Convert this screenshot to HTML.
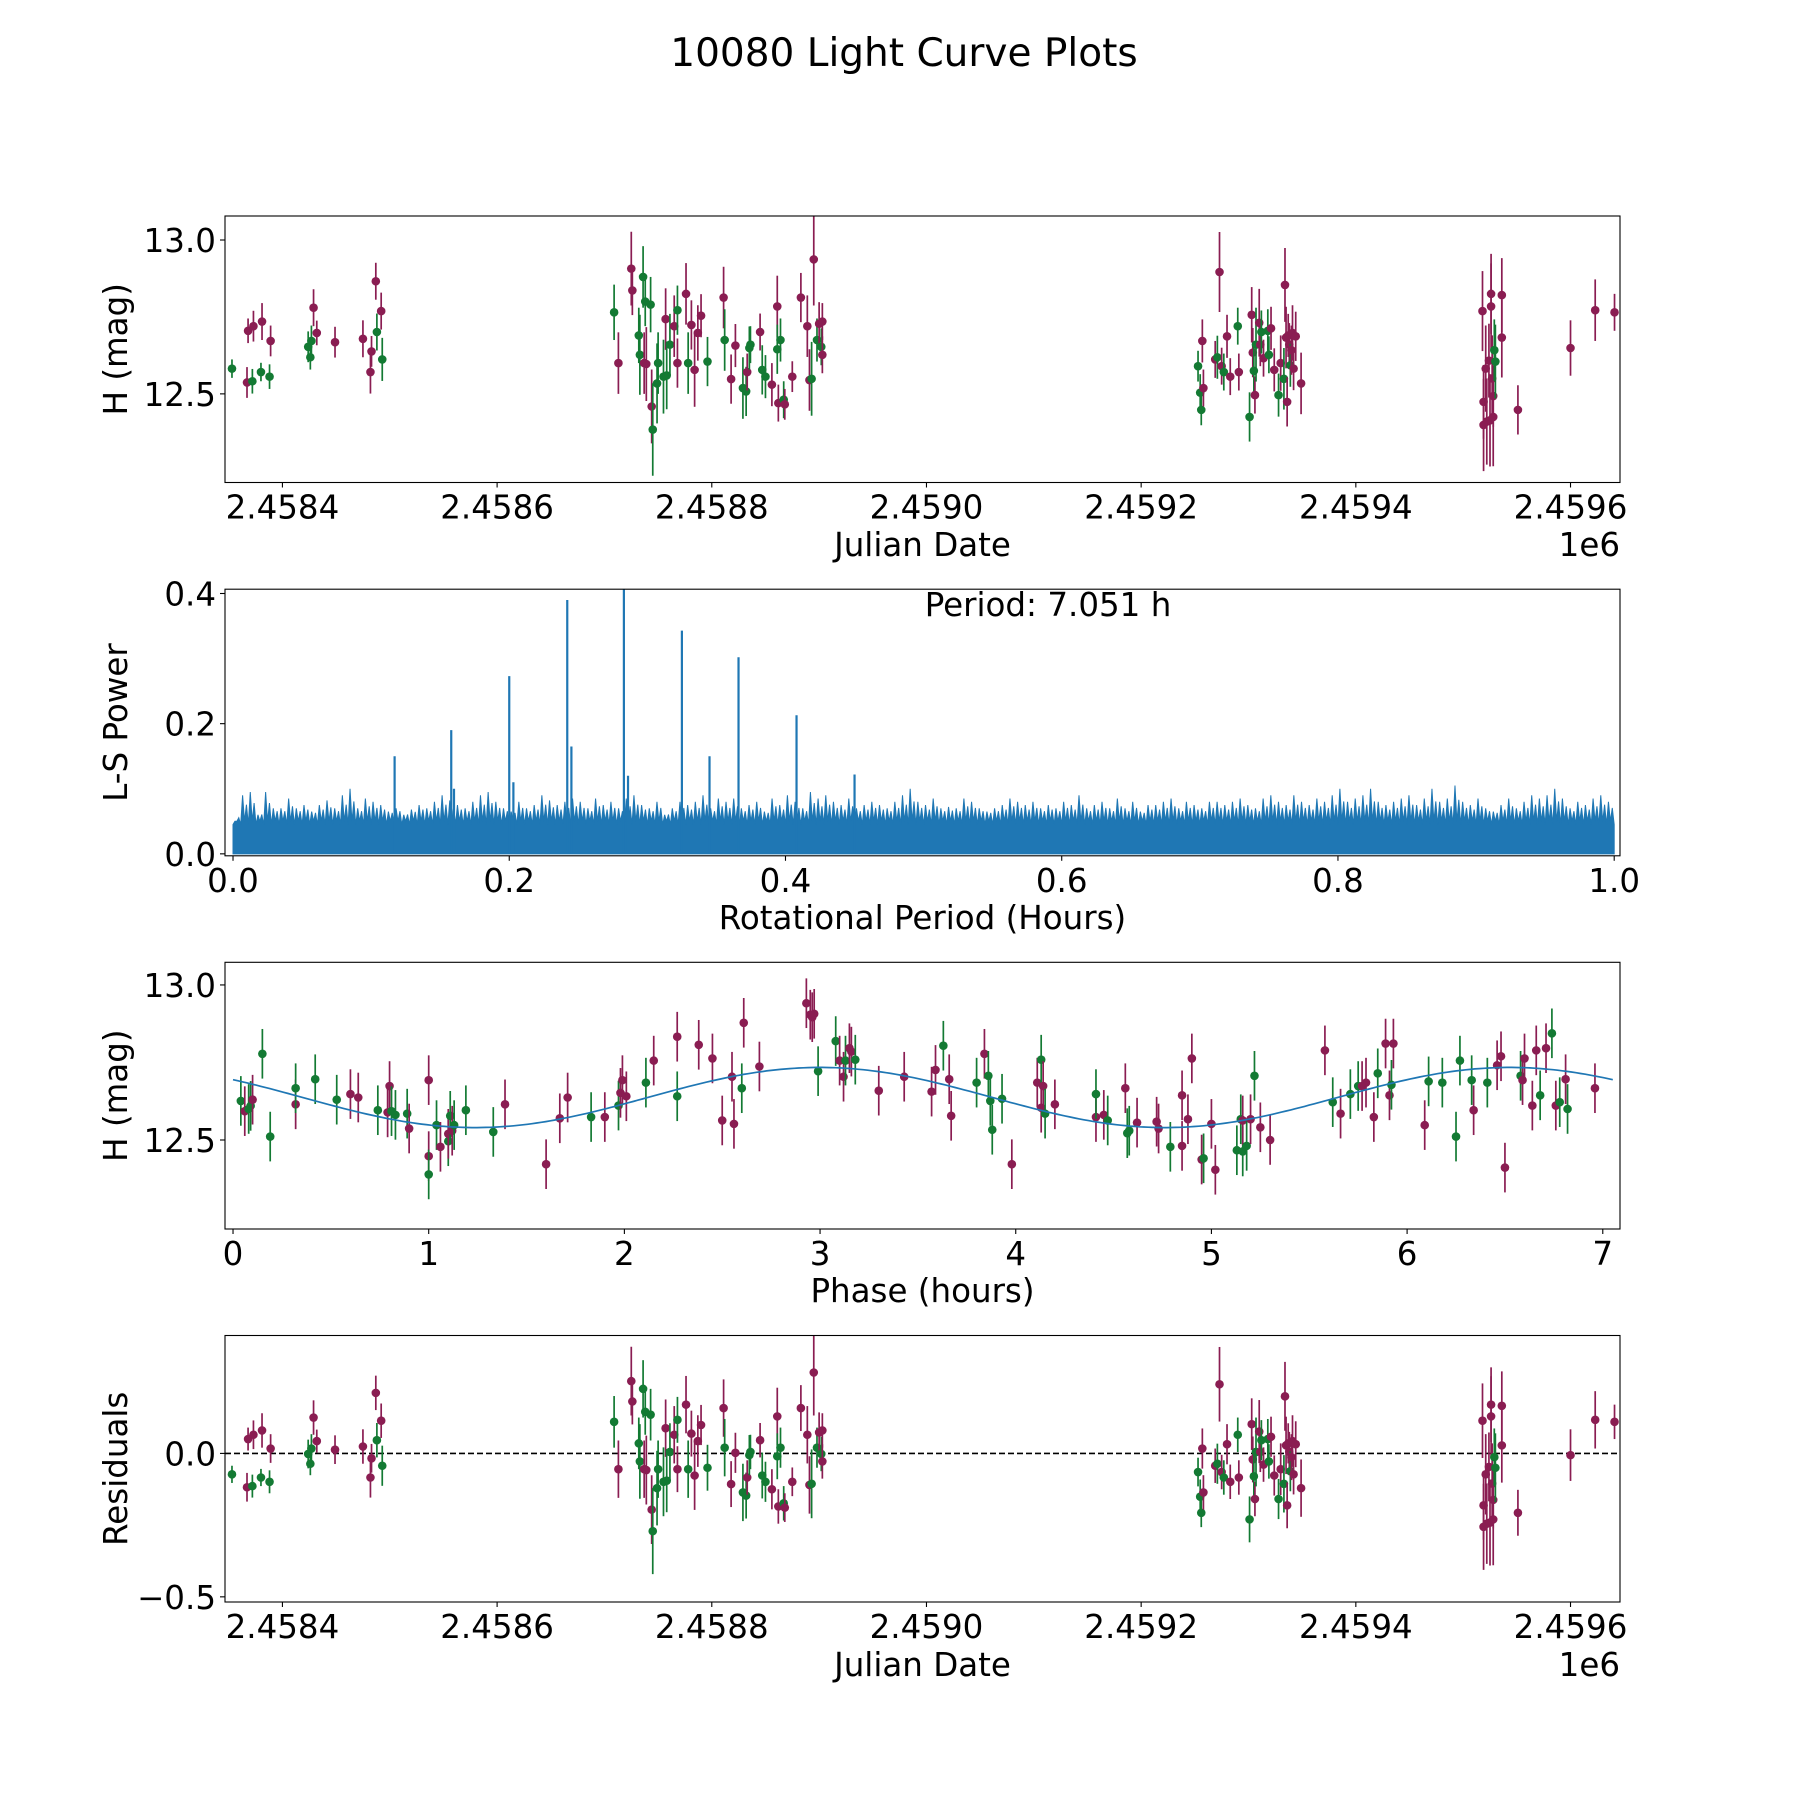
<!DOCTYPE html>
<html><head><meta charset="utf-8"><title>10080 Light Curve Plots</title>
<style>body{margin:0;background:#fff}svg{display:block}text{font-family:"DejaVu Sans","Liberation Sans",sans-serif;fill:#000}</style>
</head><body>
<svg id="fig" width="1800" height="1800" viewBox="0 0 1800 1800" xmlns="http://www.w3.org/2000/svg">
<rect width="1800" height="1800" fill="#fff"/>
<text x="904" y="66" font-size="39" text-anchor="middle">10080 Light Curve Plots</text>
</svg>
<script>
// ---------- data ----------
const JD0 = 2458400;
const lcDays = [-47,-33,-32,-28,-27,-20,-19,-12,-11,24,26,27,29,32,49,75,82,83,87,88,92,93,
309,313,325,326,332,333,336,337,338,339,343,344,345,349,350,355,357,358,361,365,368,368,376,378,381,384,387,390,396,411,412,418,422,429,432,433,435,436,445,447,450,456,461,461,462,464,467,468,475,483,489,491,493,495,498,500,502,503,503,
853,855,856,857,858,869,871,873,875,877,880,883,890,891,901,903,904,905,906,907,910,911,912,914,918,919,921,924,928,930,933,934,935,936,937,938,939,940,941,942,944,949,
1118,1119,1119,1121,1122,1124,1125,1126,1126,1127,1128,1128,1129,1130,1136,1136,1151,1200,1223,1241];
const lcMag = [12.582,12.537,12.705,12.541,12.72,12.571,12.735,12.556,12.672,12.653,12.619,12.672,12.78,12.698,12.668,12.679,12.571,12.638,12.866,12.701,12.769,12.612,
12.765,12.6,12.907,12.836,12.69,12.627,12.88,12.6,12.8,12.597,12.79,12.459,12.384,12.534,12.6,12.556,12.743,12.56,12.66,12.72,12.6,12.772,12.825,12.6,12.724,12.578,12.698,12.754,12.605,12.813,12.675,12.548,12.657,12.519,12.508,12.571,12.649,12.66,12.701,12.578,12.556,12.53,12.784,12.645,12.47,12.675,12.481,12.466,12.556,12.813,12.72,12.545,12.549,12.937,12.675,12.728,12.653,12.735,12.627,
12.59,12.504,12.448,12.672,12.519,12.612,12.619,12.896,12.59,12.571,12.687,12.556,12.72,12.571,12.425,12.757,12.634,12.575,12.496,12.66,12.731,12.66,12.701,12.616,12.705,12.627,12.713,12.578,12.496,12.6,12.549,12.854,12.683,12.474,12.69,12.66,12.593,12.642,12.698,12.582,12.687,12.534,
12.769,12.474,12.399,12.582,12.41,12.608,12.414,12.784,12.825,12.55,12.493,12.425,12.642,12.605,12.683,12.821,12.448,12.649,12.772,12.765];
const lcErr = [0.03,0.05,0.04,0.04,0.05,0.03,0.06,0.04,0.05,0.05,0.04,0.05,0.06,0.04,0.05,0.06,0.07,0.05,0.06,0.06,0.06,0.07,
0.09,0.1,0.12,0.08,0.09,0.13,0.1,0.1,0.08,0.12,0.09,0.12,0.15,0.13,0.1,0.12,0.1,0.11,0.1,0.1,0.08,0.08,0.1,0.1,0.08,0.12,0.09,0.07,0.08,0.1,0.1,0.08,0.07,0.1,0.08,0.06,0.07,0.06,0.06,0.08,0.07,0.07,0.1,0.08,0.06,0.07,0.06,0.05,0.05,0.08,0.1,0.1,0.12,0.15,0.07,0.07,0.06,0.06,0.06,
0.05,0.06,0.05,0.07,0.06,0.06,0.07,0.13,0.06,0.06,0.07,0.06,0.06,0.06,0.08,0.09,0.08,0.08,0.06,0.12,0.11,0.07,0.07,0.06,0.07,0.06,0.07,0.07,0.07,0.09,0.1,0.12,0.1,0.08,0.07,0.07,0.07,0.08,0.09,0.07,0.08,0.1,
0.13,0.12,0.15,0.14,0.14,0.12,0.15,0.14,0.13,0.14,0.1,0.16,0.1,0.12,0.13,0.12,0.08,0.09,0.1,0.06];
const lcBand = "gppgpgpgpgggpppppppgpg"+
"gpppgggpgpgpggggpggppgpgppppgpgppggpggpggppgpggpppppgpg"+"pgppgggpppgppgppgpgppgpgppgpggppgpgpppppg"+
"pppppppppppppppppggp";

const lsPeakX = [0.117,0.158,0.2,0.203,0.242,0.283,0.325,0.345,0.366,0.408,0.45,0.16,0.245,0.286];
const lsPeakY = [0.15,0.19,0.273,0.11,0.39,0.42,0.343,0.15,0.302,0.213,0.122,0.1,0.165,0.12];
const lsEnvelope = [0.05,0.09,0.095,0.06,0.095,0.07,0.07,0.085,0.07,0.075,0.065,0.075,0.082,0.07,0.09,0.1,0.07,0.085,0.08,0.075,
0.065,0.07,0.06,0.068,0.075,0.07,0.08,0.09,0.082,0.075,0.07,0.08,0.09,0.095,0.08,0.07,0.065,0.08,0.07,0.075,
0.09,0.082,0.075,0.08,0.085,0.08,0.07,0.085,0.075,0.08,0.07,0.085,0.09,0.075,0.07,0.08,0.06,0.07,0.08,0.075,
0.08,0.09,0.07,0.085,0.08,0.085,0.07,0.075,0.08,0.065,0.085,0.075,0.09,0.08,0.07,0.095,0.085,0.09,0.08,0.075,
0.085,0.07,0.075,0.08,0.075,0.07,0.08,0.09,0.1,0.08,0.075,0.085,0.07,0.072,0.07,0.085,0.08,0.07,0.065,0.07,
0.075,0.085,0.08,0.075,0.08,0.07,0.075,0.07,0.08,0.075,0.09,0.07,0.075,0.08,0.07,0.085,0.07,0.08,0.065,0.075,
0.075,0.08,0.085,0.07,0.08,0.075,0.07,0.08,0.08,0.075,0.08,0.085,0.075,0.07,0.085,0.09,0.08,0.075,0.09,0.08,
0.075,0.085,0.08,0.09,0.1,0.08,0.085,0.09,0.1,0.08,0.075,0.08,0.085,0.09,0.075,0.085,0.1,0.08,0.085,0.105,
0.08,0.075,0.085,0.07,0.065,0.075,0.085,0.07,0.08,0.09,0.085,0.09,0.1,0.085,0.07,0.08,0.075,0.085,0.09,0.08];
const lsBase = 0.045;
const lsTicks = ["0.0","0.2","0.4","0.6","0.8","1.0"];
const lsYTicks = ["0.0","0.2","0.4"];

const phX = [0.04,0.06,0.08,0.09,0.1,0.15,0.19,0.32,0.32,0.42,0.53,0.6,0.64,0.74,0.79,0.8,0.81,0.83,0.89,0.9,1.0,1.0,1.0,1.04,1.06,1.1,1.1,1.11,1.12,1.13,1.19,1.33,1.39,1.6,1.67,1.71,1.83,1.9,1.97,1.98,1.99,2.01,2.11,2.15,2.27,2.27,2.38,2.45,2.5,2.55,2.56,2.6,2.61,2.69,2.93,2.95,2.96,2.97,2.99,3.08,3.1,3.12,3.13,3.15,3.16,3.18,3.3,3.43,3.57,3.59,3.63,3.66,3.67,3.8,3.84,3.86,3.87,3.88,3.93,3.98,4.11,4.13,4.13,4.14,4.15,4.2,4.41,4.41,4.45,4.47,4.56,4.57,4.58,4.62,4.72,4.73,4.79,4.85,4.85,4.88,4.9,4.95,4.96,5.0,5.02,5.13,5.15,5.16,5.16,5.18,5.2,5.22,5.25,5.3,5.58,5.62,5.66,5.71,5.75,5.77,5.79,5.83,5.85,5.89,5.91,5.92,5.93,6.09,6.11,6.18,6.25,6.27,6.33,6.34,6.41,6.46,6.48,6.5,6.58,6.59,6.6,6.64,6.66,6.68,6.71,6.74,6.76,6.78,6.81,6.82,6.96];
const phMag = [12.626,12.593,12.6,12.61,12.63,12.778,12.511,12.615,12.667,12.696,12.63,12.648,12.637,12.596,12.589,12.674,12.593,12.581,12.585,12.537,12.448,12.389,12.693,12.548,12.478,12.496,12.52,12.578,12.53,12.548,12.596,12.526,12.615,12.422,12.57,12.637,12.574,12.574,12.611,12.652,12.693,12.641,12.685,12.756,12.833,12.641,12.807,12.763,12.563,12.704,12.552,12.667,12.878,12.737,12.941,12.904,12.896,12.907,12.722,12.819,12.756,12.704,12.756,12.796,12.785,12.759,12.659,12.704,12.656,12.726,12.804,12.696,12.578,12.685,12.778,12.707,12.626,12.533,12.633,12.422,12.685,12.604,12.759,12.674,12.585,12.615,12.574,12.648,12.581,12.563,12.667,12.522,12.53,12.556,12.559,12.537,12.478,12.644,12.481,12.567,12.763,12.437,12.441,12.552,12.404,12.467,12.567,12.463,12.563,12.481,12.567,12.707,12.541,12.5,12.789,12.622,12.585,12.648,12.674,12.674,12.685,12.574,12.715,12.811,12.644,12.678,12.811,12.548,12.689,12.685,12.511,12.756,12.693,12.596,12.685,12.741,12.77,12.411,12.707,12.693,12.763,12.611,12.789,12.644,12.796,12.844,12.611,12.622,12.696,12.6,12.667];
const phBand = "gpggpggpgggppgppgggppgpgpgpgpgggppppgpgpppgppgpppppgppppppggppgppgppppgppgpggggpppgpgppgpgpggpppgpppppgppgggpgpgpppgpggpppgppgppgggggpgpppgppppgpgpgpgppppggpp";
const phErr = 0.08;
const modelMean = 12.637, modelAmp = 0.097, modelPeriod = 3.525, modelPeak = 3.0;
const residualOffset = 12.655;

// ---------- helpers ----------
const NS = "http://www.w3.org/2000/svg";
const svg = document.getElementById('fig');
const PURPLE = "#8a1d52", GREEN = "#137a33", BLUE = "#1f77b4";
const FS = 32.5;
function el(tag, attrs, parent){const e=document.createElementNS(NS,tag);for(const k in attrs)e.setAttribute(k,attrs[k]);(parent||svg).appendChild(e);return e;}
function txt(x,y,s,size,anchor,parent){const t=el('text',{x:x,y:y,'font-size':size,'text-anchor':anchor||'middle'},parent);t.textContent=s;return t;}
const L=225,R=1620;
function lin(d0,d1,p0,p1){return v=>p0+(v-d0)*(p1-p0)/(d1-d0);}

function panel(name, top, bottom){
  const g=el('g',{});
  
  
  const cid='clip-'+name;
  const cp=el('clipPath',{id:cid},g);el('rect',{x:L,y:top,width:R-L,height:bottom-top},cp);
  const plot=el('g',{'clip-path':'url(#'+cid+')'},g);
  
  
  return {g,plot};
}
function frame(g,top,bottom){
  const f=el('rect',{x:L,y:top,width:R-L,height:bottom-top,fill:'none',stroke:'#000','stroke-width':1.1},g);
  
  
}
function xTicks(g,vals,labels,sx,bottom){
  vals.forEach((v,i)=>{const x=sx(v);
    el('line',{x1:x,x2:x,y1:bottom,y2:bottom+5,stroke:'#000','stroke-width':1.1},g);
    const t=txt(x,bottom+36,labels[i],FS,'middle',g);
    
    });
}
function yTicks(g,vals,labels,sy){
  vals.forEach((v,i)=>{const y=sy(v);
    el('line',{x1:L-5,x2:L,y1:y,y2:y,stroke:'#000','stroke-width':1.1},g);
    const t=txt(L-9,y+12,labels[i],FS,'end',g);
    
    });
}
function ylabel(g,s,top,bottom,x){
  const cy=(top+bottom)/2;const t=txt(x,cy,s,FS,'middle',g);
  t.setAttribute('transform','rotate(-90 '+x+' '+cy+')');
  
  
}
function xlabel(g,s,y){const t=txt((L+R)/2,y,s,FS,'middle',g);
  
  }
function errPoint(plot,x,y,y1,y2,c){
  el('line',{x1:x,x2:x,y1:y1,y2:y2,stroke:c,'stroke-width':1.7},plot);
  const p=el('circle',{cx:x,cy:y,r:4.3,fill:c},plot);
  
  
}
const jdTicks=[0,200,400,600,800,1000,1200];
const jdLabels=["2.4584","2.4586","2.4588","2.4590","2.4592","2.4594","2.4596"];

// ---------- panel 1: light curve ----------
(function(){
  const top=216,bottom=482.5;
  const sx=lin(-53.5,1246.1,L,R), sy=lin(12.212,13.078,bottom,top);
  const {g,plot}=panel('light-curve-panel',top,bottom);
  lcDays.forEach((d,i)=>{const c=lcBand[i]==='g'?GREEN:PURPLE;
    errPoint(plot,sx(d),sy(lcMag[i]),sy(lcMag[i]+lcErr[i]),sy(lcMag[i]-lcErr[i]),c);});
  frame(g,top,bottom);
  xTicks(g,jdTicks,jdLabels,sx,bottom);
  yTicks(g,[12.5,13.0],["12.5","13.0"],sy);
  ylabel(g,"H (mag)",top,bottom,127);
  xlabel(g,"Julian Date",556);
  const e=txt(R,556,"1e6",FS,'end',g);
  
  
})();

// ---------- panel 2: periodogram ----------
(function(){
  const top=589.2,bottom=855.8;
  const sx=lin(-0.0058,1.0042,L,R), sy=lin(-0.003,0.4066,bottom,top);
  const {g,plot}=panel('periodogram-panel',top,bottom);
  const n=lsEnvelope.length, step=1/n;
  let pts=[[sx(0),sy(0)]];
  lsEnvelope.forEach((v,i)=>{const x0=i*step;
    pts.push([sx(x0),sy(lsBase)]);pts.push([sx(x0+step*0.25),sy(v)]);pts.push([sx(x0+step*0.5),sy(lsBase+0.005)]);
    pts.push([sx(x0+step*0.75),sy((v+lsBase)/2+0.008)]);pts.push([sx(x0+step),sy(lsBase)]);});
  pts.push([sx(1),sy(0)]);
  const poly=el('polygon',{points:pts.map(p=>p.join(',')).join(' '),fill:BLUE,stroke:BLUE,'stroke-width':1},plot);
  
  
  lsPeakX.forEach((x,i)=>{const l=el('line',{x1:sx(x),x2:sx(x),y1:sy(0),y2:sy(lsPeakY[i]),stroke:BLUE,'stroke-width':2.2},plot);
    
    });
  frame(g,top,bottom);
  xTicks(g,[0,0.2,0.4,0.6,0.8,1.0],lsTicks,sx,bottom);
  yTicks(g,[0,0.2,0.4],lsYTicks,sy);
  ylabel(g,"L-S Power",top,bottom,127);
  xlabel(g,"Rotational Period (Hours)",929);
  const p=txt(1048,616,"Period: 7.051 h",FS,'middle',g);
  
  
})();

// ---------- panel 3: phased ----------
(function(){
  const top=962.3,bottom=1229;
  const sx=lin(-0.041,7.088,L,R), sy=lin(12.213,13.073,bottom,top);
  const {g,plot}=panel('phased-curve-panel',top,bottom);
  phX.forEach((x,i)=>{const c=phBand[i]==='g'?GREEN:PURPLE;const m=phMag[i];
    errPoint(plot,sx(x),sy(m),sy(m+phErr),sy(m-phErr),c);});
  let d='';for(let k=0;k<=300;k++){const x=7.051*k/300;const y=modelMean+modelAmp*Math.cos(2*Math.PI*(x-modelPeak)/modelPeriod);d+=(k?'L':'M')+sx(x).toFixed(1)+','+sy(y).toFixed(1);}
  const fit=el('path',{d:d,fill:'none',stroke:BLUE,'stroke-width':1.7},plot);
  
  
  frame(g,top,bottom);
  xTicks(g,[0,1,2,3,4,5,6,7],["0","1","2","3","4","5","6","7"],sx,bottom);
  yTicks(g,[12.5,13.0],["12.5","13.0"],sy);
  ylabel(g,"H (mag)",top,bottom,127);
  xlabel(g,"Phase (hours)",1302);
})();

// ---------- panel 4: residuals ----------
(function(){
  const top=1335.5,bottom=1602;
  const sx=lin(-53.5,1246.1,L,R), sy=lin(-0.518,0.411,bottom,top);
  const {g,plot}=panel('residuals-panel',top,bottom);
  const z=el('line',{x1:L,x2:R,y1:sy(0),y2:sy(0),stroke:'#000','stroke-width':1.6,'stroke-dasharray':'6,3'},plot);
  
  
  lcDays.forEach((d,i)=>{const c=lcBand[i]==='g'?GREEN:PURPLE;const r=lcMag[i]-residualOffset;
    errPoint(plot,sx(d),sy(r),sy(r+lcErr[i]),sy(r-lcErr[i]),c);});
  frame(g,top,bottom);
  xTicks(g,jdTicks,jdLabels,sx,bottom);
  yTicks(g,[-0.5,0],["\u22120.5","0.0"],sy);
  ylabel(g,"Residuals",top,bottom,127);
  xlabel(g,"Julian Date",1676);
  const e=txt(R,1676,"1e6",FS,'end',g);
  
  
})();
</script>
</body></html>
